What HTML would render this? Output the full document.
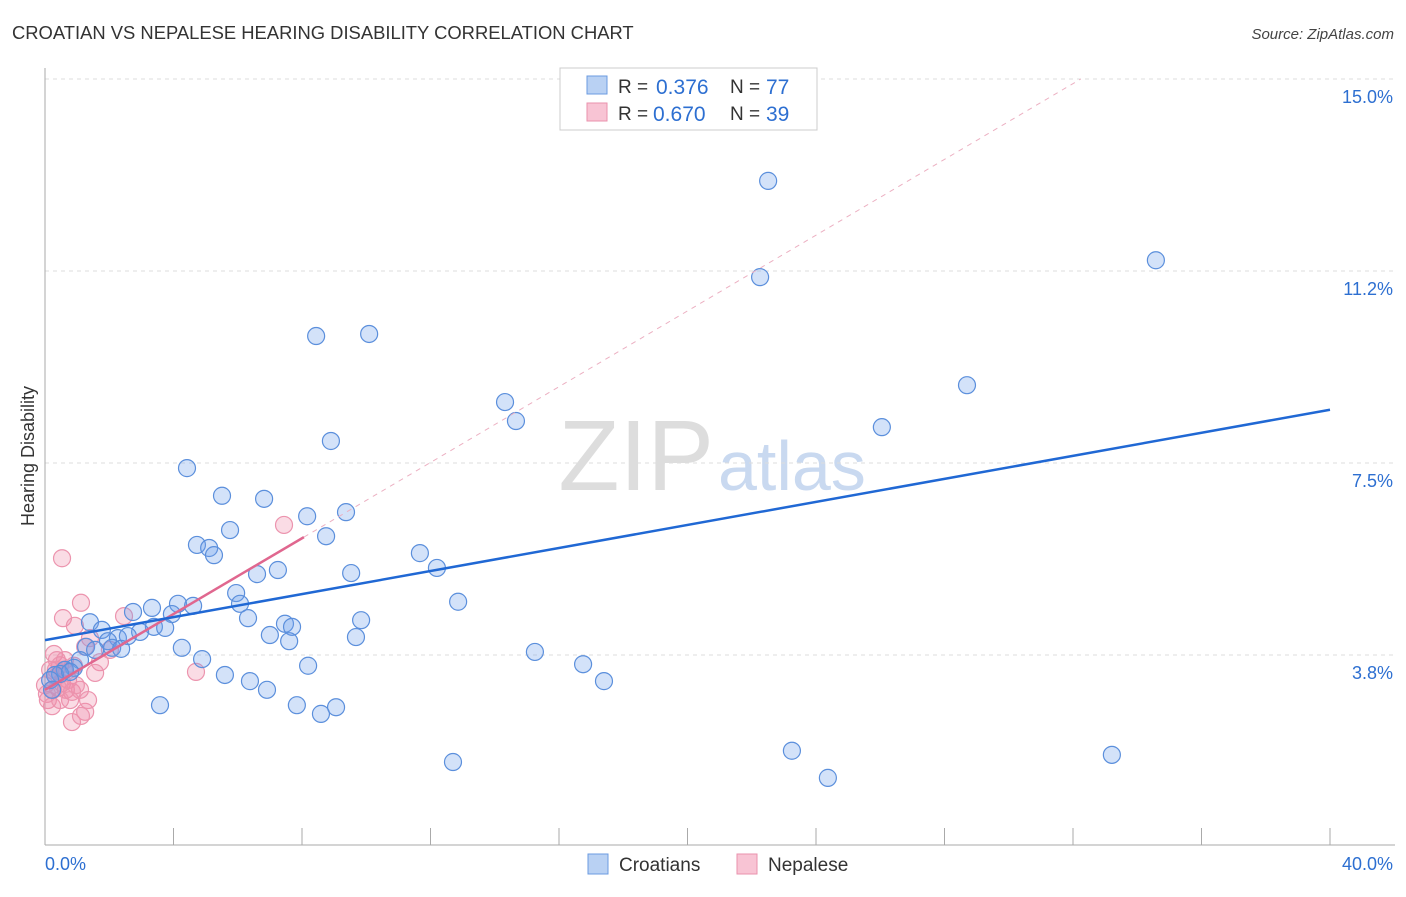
<!DOCTYPE html>
<html><head><meta charset="utf-8"><style>
body{margin:0;background:#fff;font-family:"Liberation Sans",sans-serif;}
svg text{font-family:"Liberation Sans",sans-serif;}
</style></head><body>
<svg id="chart" width="1406" height="892" xmlns="http://www.w3.org/2000/svg">
<text x="12" y="39" font-size="18.4" fill="#333">CROATIAN VS NEPALESE HEARING DISABILITY CORRELATION CHART</text>
<text x="1394" y="39" font-size="15" fill="#444" text-anchor="end" font-style="italic">Source: ZipAtlas.com</text>
<text x="714" y="490" font-size="100" fill="#ddd" text-anchor="end" font-family="Liberation Serif">ZIP</text>
<text x="718" y="490" font-size="70" fill="#c9d9f0">atlas</text>
<text transform="translate(34,456) rotate(-90)" font-size="18" fill="#333" text-anchor="middle">Hearing Disability</text>
<g id="grid"></g><g id="axes"></g><g id="marks"></g>
<g>
<rect x="560" y="68" width="257" height="62" fill="#fff" stroke="#ccc"/>
<rect x="587" y="76" width="20" height="18" fill="#b9d1f3" stroke="#6b9be0"/>
<rect x="587" y="103" width="20" height="18" fill="#f8c4d4" stroke="#ea92ad"/>
<text x="618" y="93" font-size="19" fill="#333">R =</text>
<text x="656" y="94" font-size="21" fill="#2d6fd1">0.376</text>
<text x="730" y="93" font-size="19" fill="#333">N =</text>
<text x="766" y="94" font-size="21" fill="#2d6fd1">77</text>
<text x="618" y="120" font-size="19" fill="#333">R =</text>
<text x="653" y="121" font-size="21" fill="#2d6fd1">0.670</text>
<text x="730" y="120" font-size="19" fill="#333">N =</text>
<text x="766" y="121" font-size="21" fill="#2d6fd1">39</text>
</g>
<g>
<rect x="588" y="854" width="20" height="20" fill="#b9d1f3" stroke="#6b9be0"/>
<text x="619" y="871" font-size="19" fill="#333">Croatians</text>
<rect x="737" y="854" width="20" height="20" fill="#f8c4d4" stroke="#ea92ad"/>
<text x="768" y="871" font-size="19" fill="#333">Nepalese</text>
</g>
</svg>
<script>
const blueX=[22.51,34.58,22.26,8.44,10.09,28.70,14.32,14.66,26.05,8.90,4.42,5.51,6.82,8.16,9.37,5.76,8.75,4.73,5.11,5.26,11.67,12.20,6.60,7.25,9.53,5.95,6.07,12.86,4.14,3.33,2.74,4.61,3.95,6.32,9.84,1.40,1.77,3.39,3.74,2.96,7.47,7.69,7.00,9.68,7.60,2.27,2.58,1.96,2.09,2.37,1.28,4.26,15.25,4.89,8.19,16.75,1.09,0.90,0.62,0.47,5.60,6.38,17.40,6.91,3.58,7.84,9.06,8.59,23.25,33.21,12.70,24.37,0.31,0.16,0.22,0.78,1.56];
const blueY=[13.01,11.46,11.13,9.98,10.02,9.02,8.69,8.32,8.20,7.93,7.40,6.86,6.80,6.46,6.54,6.19,6.07,5.90,5.84,5.70,5.74,5.45,5.33,5.41,5.35,4.96,4.75,4.79,4.75,4.67,4.59,4.71,4.55,4.47,4.43,4.39,4.24,4.30,4.28,4.20,4.36,4.30,4.14,4.10,4.02,4.08,4.12,4.02,3.89,3.87,3.91,3.89,3.81,3.67,3.54,3.57,3.65,3.50,3.46,3.38,3.36,3.24,3.24,3.07,2.77,2.77,2.73,2.60,1.88,1.80,1.66,1.35,3.36,3.26,3.07,3.42,3.85];
const pinkX=[0.53,1.12,0.56,2.46,0.93,1.40,1.25,1.71,0.28,0.37,0.47,0.59,0.34,0.53,0.65,0.84,0.72,0.25,0.09,0.22,1.09,1.56,1.25,0.84,1.12,7.44,4.70,0.78,0.40,0.96,0.16,0.34,1.34,0.00,0.47,0.62,0.90,0.06,2.02];
const pinkY=[5.64,4.77,4.47,4.51,4.32,4.08,3.91,3.61,3.77,3.65,3.55,3.46,3.32,3.20,3.07,3.03,3.26,3.07,2.87,2.75,3.07,3.40,2.64,2.44,2.56,6.29,3.42,2.87,3.11,3.16,3.46,3.46,2.87,3.16,2.87,3.65,3.54,2.99,3.85];
const yTicks=[15,11.25,7.5,3.75];
const yTickLabels=["15.0%","11.2%","7.5%","3.8%"];
const xTicks=[0,4,8,12,16,20,24,28,32,36,40];
const blueTrend=[4.04,8.54];
const pinkTrend=[3.07,0.37];
const NS="http://www.w3.org/2000/svg";
const sx=v=>45+v*32.125, sy=v=>847-v*51.2;
function mk(tag,attrs,parent){const e=document.createElementNS(NS,tag);for(const k in attrs)e.setAttribute(k,attrs[k]);document.getElementById(parent).appendChild(e);return e;}
yTicks.forEach((t,i)=>{
 const g=mk('line',{x1:45,x2:1395,y1:sy(t),y2:sy(t),stroke:'#ddd','stroke-dasharray':'4,4'},'grid');
 
 
 const l=mk('text',{x:1393,y:sy(t)+24,'font-size':18,fill:'#2d6fd1','text-anchor':'end'},'grid');
 l.textContent=yTickLabels[i];
 
 
});
const ax=mk('line',{x1:45,x2:45,y1:68,y2:845,stroke:'#aaa'},'axes');


const bx=mk('line',{x1:45,x2:1395,y1:845,y2:845,stroke:'#aaa'},'axes');


xTicks.forEach(t=>{
 const tk=mk('line',{x1:sx(t),x2:sx(t),y1:828,y2:845,stroke:'#aaa'},'axes');
 
 
});
const x0=mk('text',{x:45,y:870,'font-size':18,fill:'#2d6fd1'},'axes');x0.textContent='0.0%';


const x1=mk('text',{x:1393,y:870,'font-size':18,fill:'#2d6fd1','text-anchor':'end'},'axes');x1.textContent='40.0%';


pinkX.forEach((x,i)=>{
 const c=mk('circle',{cx:sx(x),cy:sy(pinkY[i]),r:8.5,fill:'rgba(240,140,170,0.3)',stroke:'#ec94ae','stroke-width':1.2},'marks');
 
 
});
blueX.forEach((x,i)=>{
 const c=mk('circle',{cx:sx(x),cy:sy(blueY[i]),r:8.5,fill:'rgba(110,160,235,0.3)',stroke:'#5b8fdc','stroke-width':1.2},'marks');
 
 
});
const pEnd=(15-pinkTrend[0])/pinkTrend[1];
const pd=mk('line',{x1:sx(8.06),y1:sy(pinkTrend[0]+pinkTrend[1]*8.06),x2:sx(pEnd),y2:sy(15),stroke:'#ecb0c2','stroke-dasharray':'5,5','stroke-width':1},'marks');


const pl=mk('line',{x1:sx(0),y1:sy(pinkTrend[0]),x2:sx(8.06),y2:sy(pinkTrend[0]+pinkTrend[1]*8.06),stroke:'#e0678f','stroke-width':2.5},'marks');


const bl=mk('line',{x1:sx(0),y1:sy(blueTrend[0]),x2:sx(40),y2:sy(blueTrend[1]),stroke:'#2068d4','stroke-width':2.5},'marks');


</script>
</body></html>
